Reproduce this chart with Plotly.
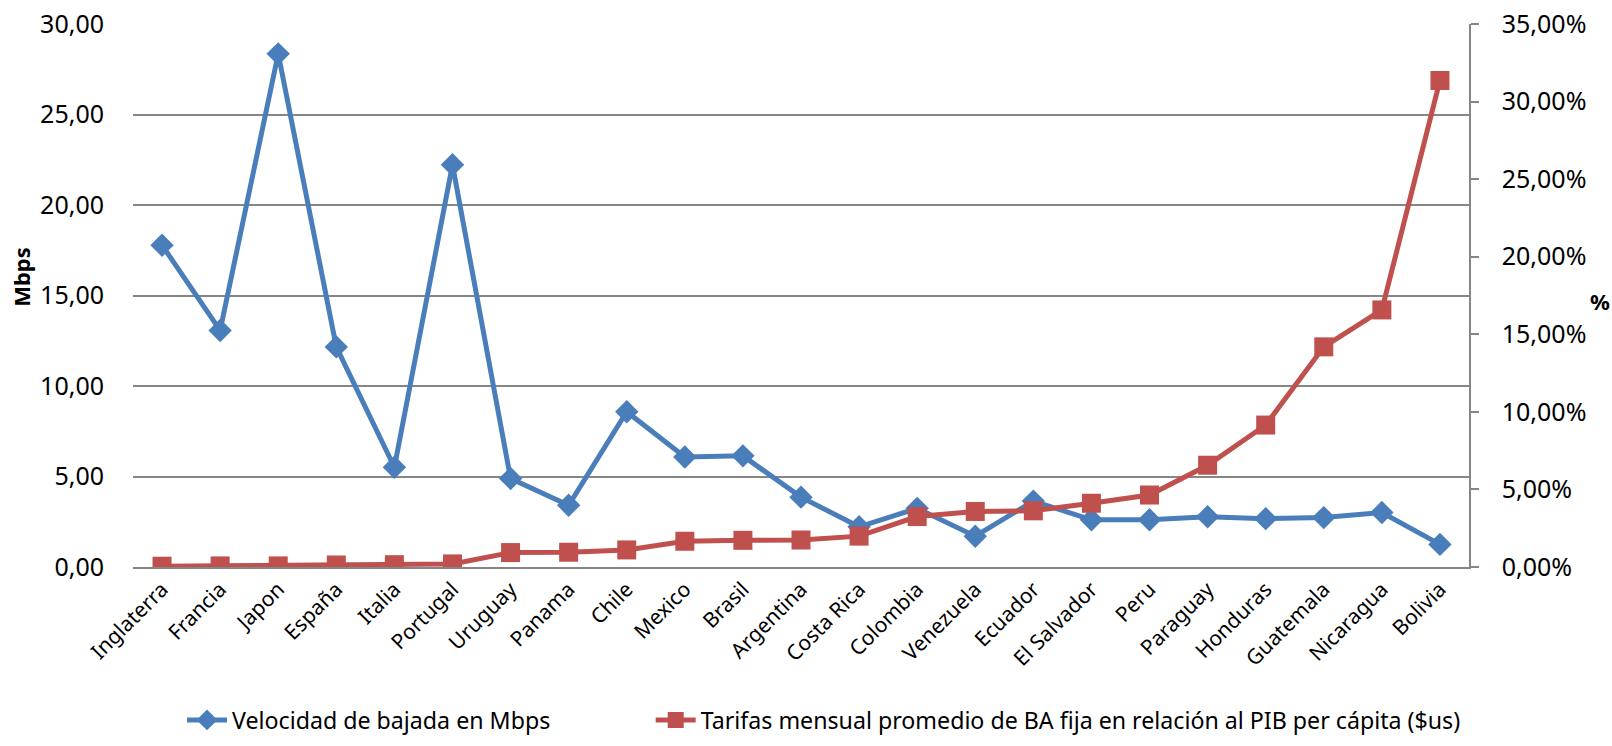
import plotly.graph_objects as go

categories = ["Inglaterra", "Francia", "Japon", "España", "Italia", "Portugal", "Uruguay",
              "Panama", "Chile", "Mexico", "Brasil", "Argentina", "Costa Rica", "Colombia",
              "Venezuela", "Ecuador", "El Salvador", "Peru", "Paraguay", "Honduras",
              "Guatemala", "Nicaragua", "Bolivia"]

velocidad_mbps = [17.78, 13.07, 28.35, 12.16, 5.51, 22.22, 4.89, 3.41, 8.58, 6.08, 6.14,
                  3.86, 2.22, 3.24, 1.70, 3.64, 2.61, 2.61, 2.78, 2.67, 2.73, 3.01, 1.25]

tarifa_pct = [0.05, 0.07, 0.07, 0.13, 0.15, 0.20, 0.93, 0.95, 1.10, 1.66, 1.72, 1.74,
              1.99, 3.25, 3.58, 3.62, 4.11, 4.64, 6.56, 9.15, 14.19, 16.57, 31.36]

left_ticks = [0, 5, 10, 15, 20, 25, 30]
right_ticks = [0, 5, 10, 15, 20, 25, 30, 35]

BLUE = "#4A7EBB"
RED = "#C0504D"
GRID = "#868686"
FONT = "Noto Sans"


def comma_fmt(v, suffix=""):
    return f"{v:.2f}".replace(".", ",") + suffix


fig = go.Figure()
fig.add_trace(go.Scatter(
    x=categories, y=velocidad_mbps, name="Velocidad de bajada en Mbps",
    mode="lines+markers", line=dict(color=BLUE, width=5),
    marker=dict(symbol="diamond", size=18, color=BLUE),
    yaxis="y", legend="legend"))
fig.add_trace(go.Scatter(
    x=categories, y=tarifa_pct,
    name="Tarifas mensual promedio de BA fija en relación al PIB per cápita ($us)",
    mode="lines+markers", line=dict(color=RED, width=5),
    marker=dict(symbol="square", size=19, color=RED),
    yaxis="y2", legend="legend2"))

legend_common = dict(orientation="h", y=-0.323, yanchor="bottom",
                     font=dict(size=23.2), itemwidth=40, bgcolor="rgba(0,0,0,0)")

fig.update_layout(
    width=1612, height=746,
    margin=dict(l=133, r=143, t=24, b=179, autoexpand=False),
    paper_bgcolor="white", plot_bgcolor="white",
    separators=",.",
    font=dict(family=FONT, size=21, color="black"),
    showlegend=True,
    legend=dict(x=0.0367, xanchor="left", **legend_common),
    legend2=dict(x=0.3875, xanchor="left", **legend_common),
    xaxis=dict(type="category", range=[-0.5, len(categories) - 0.5], tickangle=-45,
               showgrid=False, showline=True, linecolor=GRID, linewidth=1.5, ticks="",
               tickfont=dict(size=21), zeroline=False, automargin=False),
    yaxis=dict(range=[0, 30], tickvals=left_ticks,
               ticktext=[comma_fmt(v) for v in left_ticks], showgrid=True,
               gridcolor=GRID, gridwidth=1.5, showline=False, zeroline=False,
               ticks="", tickfont=dict(size=25), ticklabelstandoff=28, automargin=False),
    yaxis2=dict(range=[0, 35], tickvals=right_ticks,
                ticktext=[comma_fmt(v, "%") for v in right_ticks],
                overlaying="y", side="right", showgrid=False, showline=True,
                linecolor=GRID, linewidth=1.5, ticks="outside", ticklen=8,
                tickcolor=GRID, tickwidth=1.5, zeroline=False, tickfont=dict(size=25),
                ticklabelstandoff=18, automargin=False),
    annotations=[
        dict(text="<b>Mbps</b>", xref="paper", yref="paper", x=-0.084, y=0.534,
             xanchor="center", yanchor="middle", showarrow=False, textangle=-90,
             font=dict(size=22, family=FONT)),
        dict(text="<b>%</b>", xref="paper", yref="paper", x=1.098, y=0.49,
             xanchor="center", yanchor="middle", showarrow=False,
             font=dict(size=22, family=FONT)),
    ],
)

fig.write_html(
    "out.html",
    config={"displayModeBar": False},
    post_script="document.body.style.margin='0';document.body.style.overflow='hidden';",
)
